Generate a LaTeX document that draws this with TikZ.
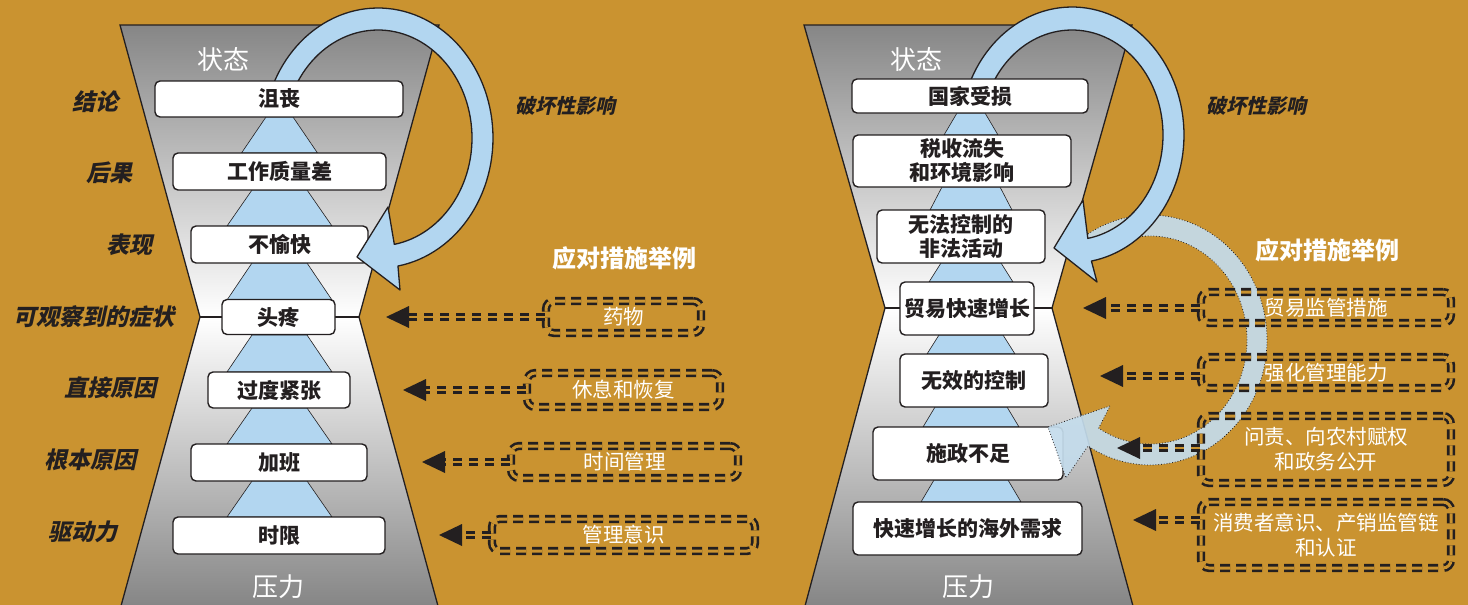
\documentclass[tikz,border=0pt]{standalone}
\usepackage{fontspec}
\setmainfont{Noto Sans CJK SC}
\newfontfamily\cjksl{Noto Sans CJK SC}[FakeSlant=0.22]
\usetikzlibrary{calc}
\definecolor{bg}{RGB}{202,147,48}
\definecolor{dark}{RGB}{35,31,32}
\definecolor{hgray}{RGB}{134,134,134}
\definecolor{lblue}{RGB}{178,214,240}
\definecolor{pblue}{RGB}{196,220,236}
\begin{document}
\begin{tikzpicture}[x=1pt,y=-1pt,
  box/.style={draw=dark, line width=1.4pt, fill=white, rounded corners=5pt, inner sep=0pt, text=dark, align=center, font=\bfseries\fontsize{21}{24}\selectfont},
  lab/.style={anchor=east, inner sep=0pt, text=dark, font=\cjksl\bfseries\fontsize{23}{26}\selectfont},
  ttl/.style={inner sep=0pt, text=white, font=\fontsize{26}{30}\selectfont},
  hdr/.style={inner sep=0pt, text=white, font=\bfseries\fontsize{24}{27}\selectfont},
  impact/.style={inner sep=0pt, text=dark, font=\cjksl\bfseries\fontsize{20}{24}\selectfont},
  meas/.style={draw=dark, line width=2.6pt, double=bg, double distance=3pt, dash pattern=on 10pt off 6pt, rounded corners=8pt, inner sep=0pt, text=white, align=center, font=\fontsize{20.5}{25}\selectfont},
  shaft/.style={draw=dark, line width=2.4pt, double=bg, double distance=2.6pt, dash pattern=on 9pt off 7pt, shorten >=20pt},
  ahead/.style={fill=dark},
  hg/.style={draw=dark, line width=1.3pt},
  trap/.style={fill=lblue, draw=dark, line width=0.6pt},
  loop/.style={fill=lblue, draw=dark, line width=1.3pt, line join=round},
  loopb/.style={fill=pblue, draw=dark, line width=0.8pt, dotted, line join=round}
]
\useasboundingbox (0,0) rectangle (1468,605);
\fill[bg] (0,0) rectangle (1468,605);

% ---------- left hourglass ----------
\shade[top color=hgray, bottom color=white] (120,25) -- (439,25) -- (359,317) -- (200,317) -- cycle;
\shade[top color=white, bottom color=hgray] (200,317) -- (359,317) -- (438,605) -- (121,605) -- cycle;
\draw[hg] (121,606) -- (200,317) -- (120,25) -- (439,25) -- (359,317) -- (438,606);
\draw[hg] (200,317) -- (359,317);

\foreach \ya/\yb/\ha/\hb in {117/153/13.5/38, 190/226/27.5/52.5, 263/300/27.5/52.5, 335/372/27.5/52.5, 408/444/27.5/52.5, 481/517/27.5/52.5}
  \draw[trap] (279.5-\ha,\ya) -- (279.5+\ha,\ya) -- (279.5+\hb,\yb) -- (279.5-\hb,\yb) -- cycle;

\node[ttl] (sL) at (223,60) {状态};
\node[ttl] (pL) at (278,587) {压力};

\node[box, minimum width=213, minimum height=37] (b2) at (279.5,171.5) {工作质量差};
\node[box, minimum width=177, minimum height=37] (b3) at (279.5,244.5) {不愉快};
\node[box, minimum width=113, minimum height=35] (b4) at (278.5,317) {头疼};
\node[box, minimum width=142, minimum height=36] (b5) at (279,390) {过度紧张};
\node[box, minimum width=176, minimum height=37] (b6) at (279,462.5) {加班};
\node[box, minimum width=212, minimum height=37] (b7) at (279,535.5) {时限};

% left feedback loop
\draw[loop] plot[domain=195:440, samples=90, variable=\t] ({378+115*cos(\t)},{138+130*sin(\t)})
  -- (400,290) -- (357,257) -- (388,207)
  -- plot[domain=440:195, samples=90, variable=\t] ({378+94*cos(\t)},{138+108*sin(\t)}) -- cycle;
\node[box, minimum width=248, minimum height=36] (b1) at (279,99) {沮丧};

% left labels
\node[lab] (l1) at (119,102) {结论};
\node[lab] (l2) at (133,173) {后果};
\node[lab] (l3) at (153,245) {表现};
\node[lab] (l4) at (175,317) {可观察到的症状};
\node[lab] (l5) at (157,388) {直接原因};
\node[lab] (l6) at (137,460) {根本原因};
\node[lab] (l7) at (118,532) {驱动力};

\node[impact] (iL) at (565,106) {破坏性影响};
\node[hdr] (hL) at (624,258) {应对措施举例};

% left measures
\node[meas, minimum width=155, minimum height=32] (ld1) at (623.5,317) {药物};
\node[meas, minimum width=193, minimum height=34] (ld2) at (623.5,390) {休息和恢复};
\node[meas, minimum width=227, minimum height=32] (ld3) at (624.5,462) {时间管理};
\node[meas, minimum width=263, minimum height=32] (ld4) at (623.5,535) {管理意识};
\coordinate (tL1) at (386,317);
\coordinate (tL2) at (403,390);
\coordinate (tL3) at (422,462);
\coordinate (tL4) at (439,535);
\foreach \b/\t in {ld1/tL1, ld2/tL2, ld3/tL3, ld4/tL4}{
  \draw[shaft] (\t -| \b.west) -- (\t);
  \fill[ahead] (\t) -- ++(23,-11) -- ++(0,22) -- cycle;
}

% ---------- right hourglass ----------
\shade[top color=hgray, bottom color=white] (804,25) -- (1132,25) -- (1052,308) -- (885,308) -- cycle;
\shade[top color=white, bottom color=hgray] (885,308) -- (1052,308) -- (1133,605) -- (805,605) -- cycle;
\draw[hg] (805,606) -- (885,308) -- (804,25) -- (1132,25) -- (1052,308) -- (1133,606);
\draw[hg] (885,308) -- (1052,308);

\foreach \ya/\yb/\ha/\hb in {113/135/14/27, 187/210/29/41, 263/282/30/42, 335/354/32/44, 407/427/36/48, 480/502/37/50}
  \draw[trap] (971-\ha,\ya) -- (971+\ha,\ya) -- (971+\hb,\yb) -- (971-\hb,\yb) -- cycle;

\node[ttl] (sR) at (916,60) {状态};
\node[ttl] (pR) at (968,587) {压力};

\node[box, minimum width=218, minimum height=52] (r2) at (962,161) {税收流失\\和环境影响};
\node[box, minimum width=168, minimum height=53] (r3) at (961,236.5) {无法控制的\\非法活动};
\node[box, minimum width=134, minimum height=53] (r4) at (967,308.5) {贸易快速增长};
\node[box, minimum width=148, minimum height=53] (r5) at (974,380.5) {无效的控制};
\node[box, minimum width=190, minimum height=53] (r6) at (968,453.5) {施政不足};
\node[box, minimum width=229, minimum height=53] (r7) at (967.5,528.5) {快速增长的海外需求};

% lower (response) loop
\draw[loopb, fill opacity=0.92] plot[domain=230:482, samples=90, variable=\t] ({1150+117*cos(\t)},{340+125*sin(\t)})
  -- (1066,478) -- (1048,427) -- (1110,406)
  -- plot[domain=482:230, samples=90, variable=\t] ({1150+97*cos(\t)},{340+104*sin(\t)}) -- cycle;

\node[impact] (iR) at (1256,106) {破坏性影响};
\node[hdr] (hR) at (1327,250) {应对措施举例};

\node[meas, minimum width=250, minimum height=31] (rd1) at (1326,307.5) {贸易监管措施};
\node[meas, minimum width=250, minimum height=31] (rd2) at (1326,372.5) {强化管理能力};
\node[meas, minimum width=250, minimum height=67] (rd3) at (1326,449.5) {问责、向农村赋权\\和政务公开};
\node[meas, minimum width=250, minimum height=66] (rd4) at (1326,535) {消费者意识、产销监管链\\和认证};
\coordinate (tR1) at (1083,308);
\coordinate (tR2) at (1100,376);
\coordinate (tR3) at (1117,448);
\coordinate (tR4) at (1133,520);
\foreach \b/\t in {rd1/tR1, rd2/tR2, rd3/tR3, rd4/tR4}{
  \draw[shaft] (\t -| \b.west) -- (\t);
  \fill[ahead] (\t) -- ++(23,-11) -- ++(0,22) -- cycle;
}

% right feedback loop
\draw[loop] plot[domain=195:440, samples=90, variable=\t] ({1072+112*cos(\t)},{135+128*sin(\t)})
  -- (1097,282) -- (1054,248) -- (1083,200)
  -- plot[domain=440:195, samples=90, variable=\t] ({1072+91*cos(\t)},{135+105*sin(\t)}) -- cycle;
\node[box, minimum width=236, minimum height=34] (r1) at (970,96) {国家受损};
\end{tikzpicture}
\end{document}
